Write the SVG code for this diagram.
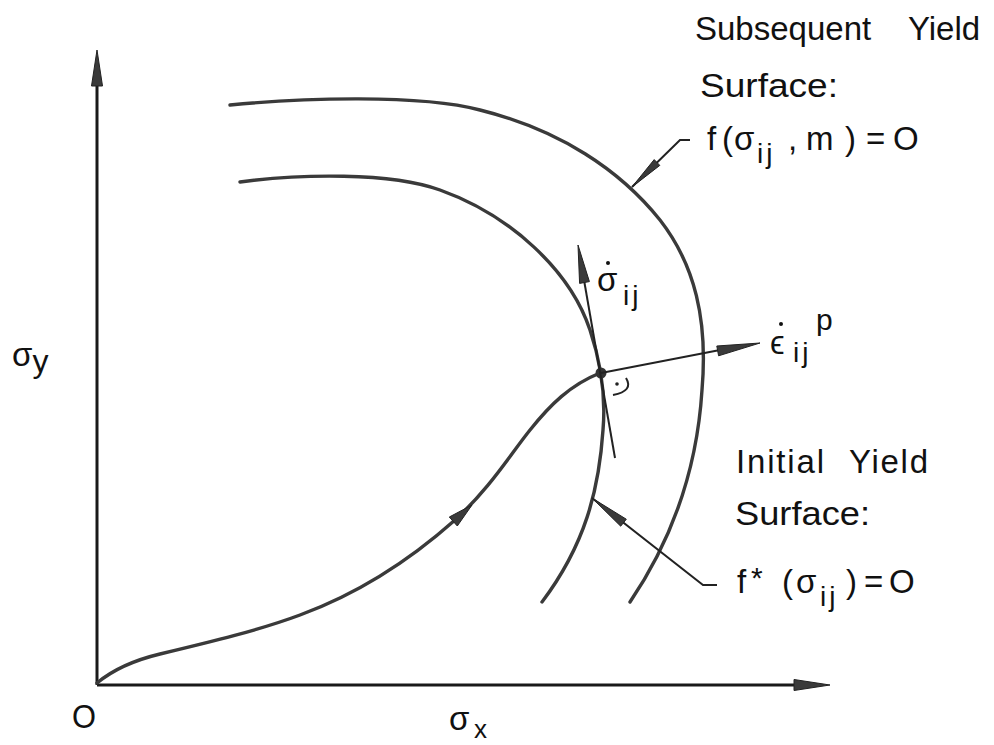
<svg xmlns="http://www.w3.org/2000/svg" width="994" height="745" viewBox="0 0 994 745">
<style>
.ln{fill:none;stroke:#3a3a3a;stroke-width:3.4;stroke-linecap:round;stroke-linejoin:round}
.ax{fill:none;stroke:#1a1a1a;stroke-width:3}
.thin{fill:none;stroke:#222;stroke-width:2}
.ah{fill:#3a3a3a;stroke:#222;stroke-width:1}
.t{font-family:"Liberation Sans","DejaVu Sans",sans-serif;font-size:33px;fill:#111}
.s{font-size:28px;letter-spacing:3px}
</style>
<rect width="994" height="745" fill="#fff"/>
<g id="axes">
<line class="ax" x1="97" y1="685" x2="97" y2="80"/>
<polygon class="ah" points="97,50 102.5,86 91.5,86"/>
<line class="ax" x1="97" y1="685" x2="800" y2="685"/>
<polygon class="ah" points="830,685 794,690.5 794,679.5"/>
<text class="t" x="72" y="728" font-size="35" textLength="24" lengthAdjust="spacingAndGlyphs">O</text>
<text class="t" x="449" y="730" font-size="34">σ<tspan x="474" y="738" font-size="26">x</tspan></text>
<text class="t" x="12" y="366" font-size="36">σ<tspan dy="6" font-size="32">y</tspan></text>
</g>
<g id="subsequent-surface">
<path class="ln" d="M230,105 C300,98 420,94 480,110 C560,130 620,170 660,220 C695,265 708,320 702,390 C697,470 672,540 630,602"/>
<path class="thin" d="M632,187 L680,140 L690,140"/>
<polygon class="ah" points="632,187 659.8,165.4 654.2,159.6"/>
<text class="t" x="695" y="40">Subsequent</text>
<text class="t" x="908" y="40">Yield</text>
<text class="t" x="700" y="97" textLength="138" lengthAdjust="spacingAndGlyphs">Surface:</text>
<text class="t" y="150"><tspan x="707">f</tspan><tspan x="722">(</tspan><tspan x="734">σ</tspan><tspan class="s" x="757" y="163">ij</tspan><tspan x="788" y="150">,</tspan><tspan x="806">m</tspan><tspan x="845">)</tspan><tspan x="866">=</tspan><tspan x="893">O</tspan></text>
</g>
<g id="initial-surface">
<path class="ln" d="M240,182 C300,174 390,172 440,190 C510,215 570,270 590,330 C600,360 606,395 603,430 C599,490 585,545 542,602"/>
<path class="thin" d="M592,498 L703,585 L717,585"/>
<polygon class="ah" points="592,498 620.7,526.2 626.3,519.2"/>
<text class="t" x="736" y="473" textLength="88" lengthAdjust="spacing">Initial</text>
<text class="t" x="849" y="473" textLength="79" lengthAdjust="spacing">Yield</text>
<text class="t" x="735" y="525" textLength="135" lengthAdjust="spacingAndGlyphs">Surface:</text>
<text class="t" y="593"><tspan x="737">f</tspan><tspan x="751" y="588" font-size="30">*</tspan><tspan x="782" y="593">(</tspan><tspan x="796">σ</tspan><tspan class="s" x="820" y="606">ij</tspan><tspan x="846" y="593">)</tspan><tspan x="864">=</tspan><tspan x="889">O</tspan></text>
</g>
<g id="loading-path">
<path class="ln" d="M97,683 C115,668 135,660 160,654 C210,642 260,630 300,615 C360,593 410,560 455,520 C490,488 510,455 530,430 C550,405 570,385 600,373"/>
<polygon class="ah" points="472,505 457.3,526 449.3,517"/>
</g>
<g id="stress-point">
<circle cx="601" cy="373" r="5.5" fill="#333"/>
<path fill="none" stroke="#222" stroke-width="2" d="M626,378 Q634,391 613,395"/>
<circle cx="617" cy="384" r="1.8" fill="#222"/>
</g>
<g id="connectors">
<line class="thin" x1="615" y1="458" x2="584" y2="280"/>
<polygon class="ah" points="578,245 589.4,281.6 579.6,283.4"/>
<line class="thin" x1="601" y1="373" x2="720" y2="350"/>
<polygon class="ah" points="760,343 718.6,355.8 716.8,346"/>
</g>
<g id="rate-labels">
<text class="t" x="597" y="291">σ<tspan class="s" x="623" dy="14">ij</tspan></text>
<circle cx="608" cy="263" r="2" fill="#111"/>
<text class="t" x="770" y="354" font-size="36">ϵ<tspan class="s" x="793" y="362">ij</tspan><tspan x="816" y="330" font-size="30">p</tspan></text>
<circle cx="781" cy="324" r="2" fill="#111"/>
</g>
</svg>
